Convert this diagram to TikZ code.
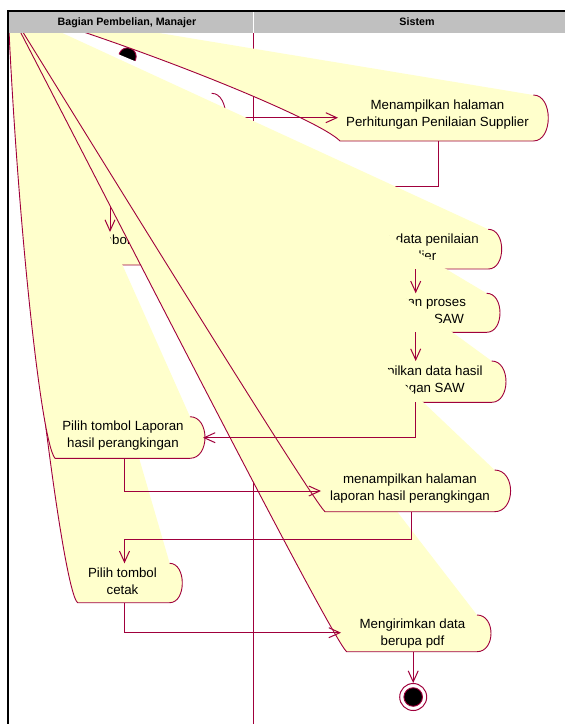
\documentclass[tikz,border=0pt]{standalone}
\usepackage{fontspec}
\setmainfont{Liberation Sans}
\usetikzlibrary{arrows.meta}

\definecolor{flowred}{RGB}{160,0,60}
\definecolor{actfill}{RGB}{255,255,204}
\definecolor{headgray}{RGB}{192,192,192}

\tikzset{
  outline/.style={draw=flowred, line width=0.9pt, line join=round},
  flow/.style={draw=flowred, line width=1pt, -{Straight Barb[length=11pt,width=10pt]}},
  acttext/.style={font=\fontsize{13.3}{17}\selectfont, align=center, inner sep=0pt, text=black},
  headtext/.style={font=\fontsize{10.7}{12}\selectfont\bfseries, inner sep=0pt, anchor=base},
}

% Activity body whose left end is stretched out to the corner point (S).
% #1 fill, #2 x of lower-left end, #3 x where the right end starts, #4 top, #5 bottom,
% #6 bulge of the right end, #7 #8 control points of the long lower-left edge
\newcommand\actshape[8]{%
  \path[fill=#1] (S) .. controls #7 and #8 .. (#2,#5) -- (#3,#5)
    .. controls ({#3+1.333*#6},#5) and ({#3+1.333*#6},#4) .. (#3,#4) -- cycle;
  \draw[outline] (S) .. controls #7 and #8 .. (#2,#5) -- (#3,#5)
    .. controls ({#3+1.333*#6},#5) and ({#3+1.333*#6},#4) .. (#3,#4);
}

\begin{document}
\begin{tikzpicture}[x=1pt,y=-1pt]
\useasboundingbox (0,0) rectangle (565,724);
\fill[white] (0,0) rectangle (565,724);
\coordinate (S) at (8,8);

% start state
\coordinate (start) at (127.5,56.5);
\fill[black] (start) circle[radius=8.7];
\draw[outline] (start) circle[radius=8.7];

% first activity of the actor lane (white body)
\actshape{white}{55}{211.7}{93.3}{139.3}{14}{(20,50)}{(45,135)}

% lane divider
\draw[flowred, line width=0.7pt] (253,32) -- (253,724);

% Menampilkan halaman Perhitungan Penilaian Supplier
\actshape{actfill}{340}{533.3}{95}{141}{15}{(150,50)}{(320,120)}
\node[acttext] (t-b1) at (437.5,115) {Menampilkan halaman\\Perhitungan Penilaian Supplier};

% second actor activity
\actshape{actfill}{45}{175}{232}{265}{15}{(15,100)}{(35,258)}
\node[acttext] (t-a2) at (110,240) {tombol};

\coordinate (a1-out) at (226,117.7);
\coordinate (b1-in) at (338,117.7);
\coordinate (b1-out) at (438.3,141);
\coordinate (a2-in) at (110,232);
\draw[flow] (a1-out) -- (b1-in);
\draw[flow] (b1-out) -- ++(0,45) -| (a2-in);

% system activities
\actshape{actfill}{338}{488.3}{229.3}{269}{13.4}{(123.5,99.4)}{(326,261)}
\node[acttext] (t-b2) at (413,248.5) {Simpan data penilaian\\supplier};

\actshape{actfill}{338}{486.7}{293.3}{332.3}{13.3}{(123.5,121.5)}{(326,324)}
\node[acttext] (t-b3) at (412,311.5) {Melakukan proses\\perhitungan SAW};
\coordinate (b2-out) at (415.7,269);
\coordinate (b3-in) at (415.7,293.3);
\draw[flow] (b2-out) -- (b3-in);

\actshape{actfill}{330}{491.7}{361}{402.3}{14.3}{(120.7,146)}{(318,394)}
\node[acttext] (t-b4) at (412.7,380.2) {Menampilkan data hasil\\perhitungan SAW};
\coordinate (b3-out) at (415.7,332.3);
\coordinate (b4-in) at (415.7,361);
\draw[flow] (b3-out) -- (b4-in);

% lower activities
\actshape{actfill}{77.6}{169.7}{563.3}{602.7}{12.6}{(20,250)}{(62,590)}
\node[acttext] (t-cetak) at (122.5,581.7) {Pilih tombol\\cetak};

\actshape{actfill}{55}{190}{416.7}{458.3}{15}{(16,200)}{(40,440)}
\node[acttext] (t-lap) at (123,436) {Pilih tombol Laporan\\hasil perangkingan};

\actshape{actfill}{346.6}{477}{615}{651.7}{14}{(120,224)}{(330,636)}
\node[acttext] (t-kirim) at (412.5,633.5) {Mengirimkan data\\berupa pdf};

\actshape{actfill}{325}{494.6}{470}{511.7}{16}{(110,173)}{(312,500)}
\node[acttext] (t-lap2) at (410,489) {menampilkan halaman\\laporan hasil perangkingan};

% transitions
\coordinate (b4-out) at (415.7,402.3);
\coordinate (lap-in) at (203,437.7);
\coordinate (lap-out) at (124.5,458.3);
\coordinate (lap2-in) at (321,491);
\coordinate (lap2-out) at (411.6,511.7);
\coordinate (cetak-in) at (124.5,563.3);
\coordinate (cetak-out) at (124.5,602.7);
\coordinate (kirim-in) at (341,632.7);
\coordinate (kirim-out) at (413.2,651.7);

\node[circle, draw=flowred, line width=1pt, minimum size=27pt, inner sep=0pt] (end) at (413.2,697) {};
\fill[black] (end.center) circle[radius=9.3];
\draw[outline] (end.center) circle[radius=9.3];

\draw[flow] (b4-out) |- (lap-in);
\draw[flow] (lap-out) |- (lap2-in);
\draw[flow] (lap2-out) -- ++(0,27.3) -| (cetak-in);
\draw[flow] (cetak-out) |- (kirim-in);
\draw[flow] (kirim-out) -- (end.north);

% lane headers and frame
\fill[white] (0,0) rectangle (565,10);
\fill[headgray] (9,12) rectangle (565,32.5);
\draw[white, line width=0.8pt] (253,12) -- (253,32.5);
\node[headtext] (h-actor) at (127,25.5) {Bagian Pembelian, Manajer};
\node[headtext] (h-sys) at (417,25.5) {Sistem};
\draw[black, line width=2pt] (7,11) -- (565,11);
\draw[black, line width=2pt] (8.3,10) -- (8.3,724);
\end{tikzpicture}
\end{document}
